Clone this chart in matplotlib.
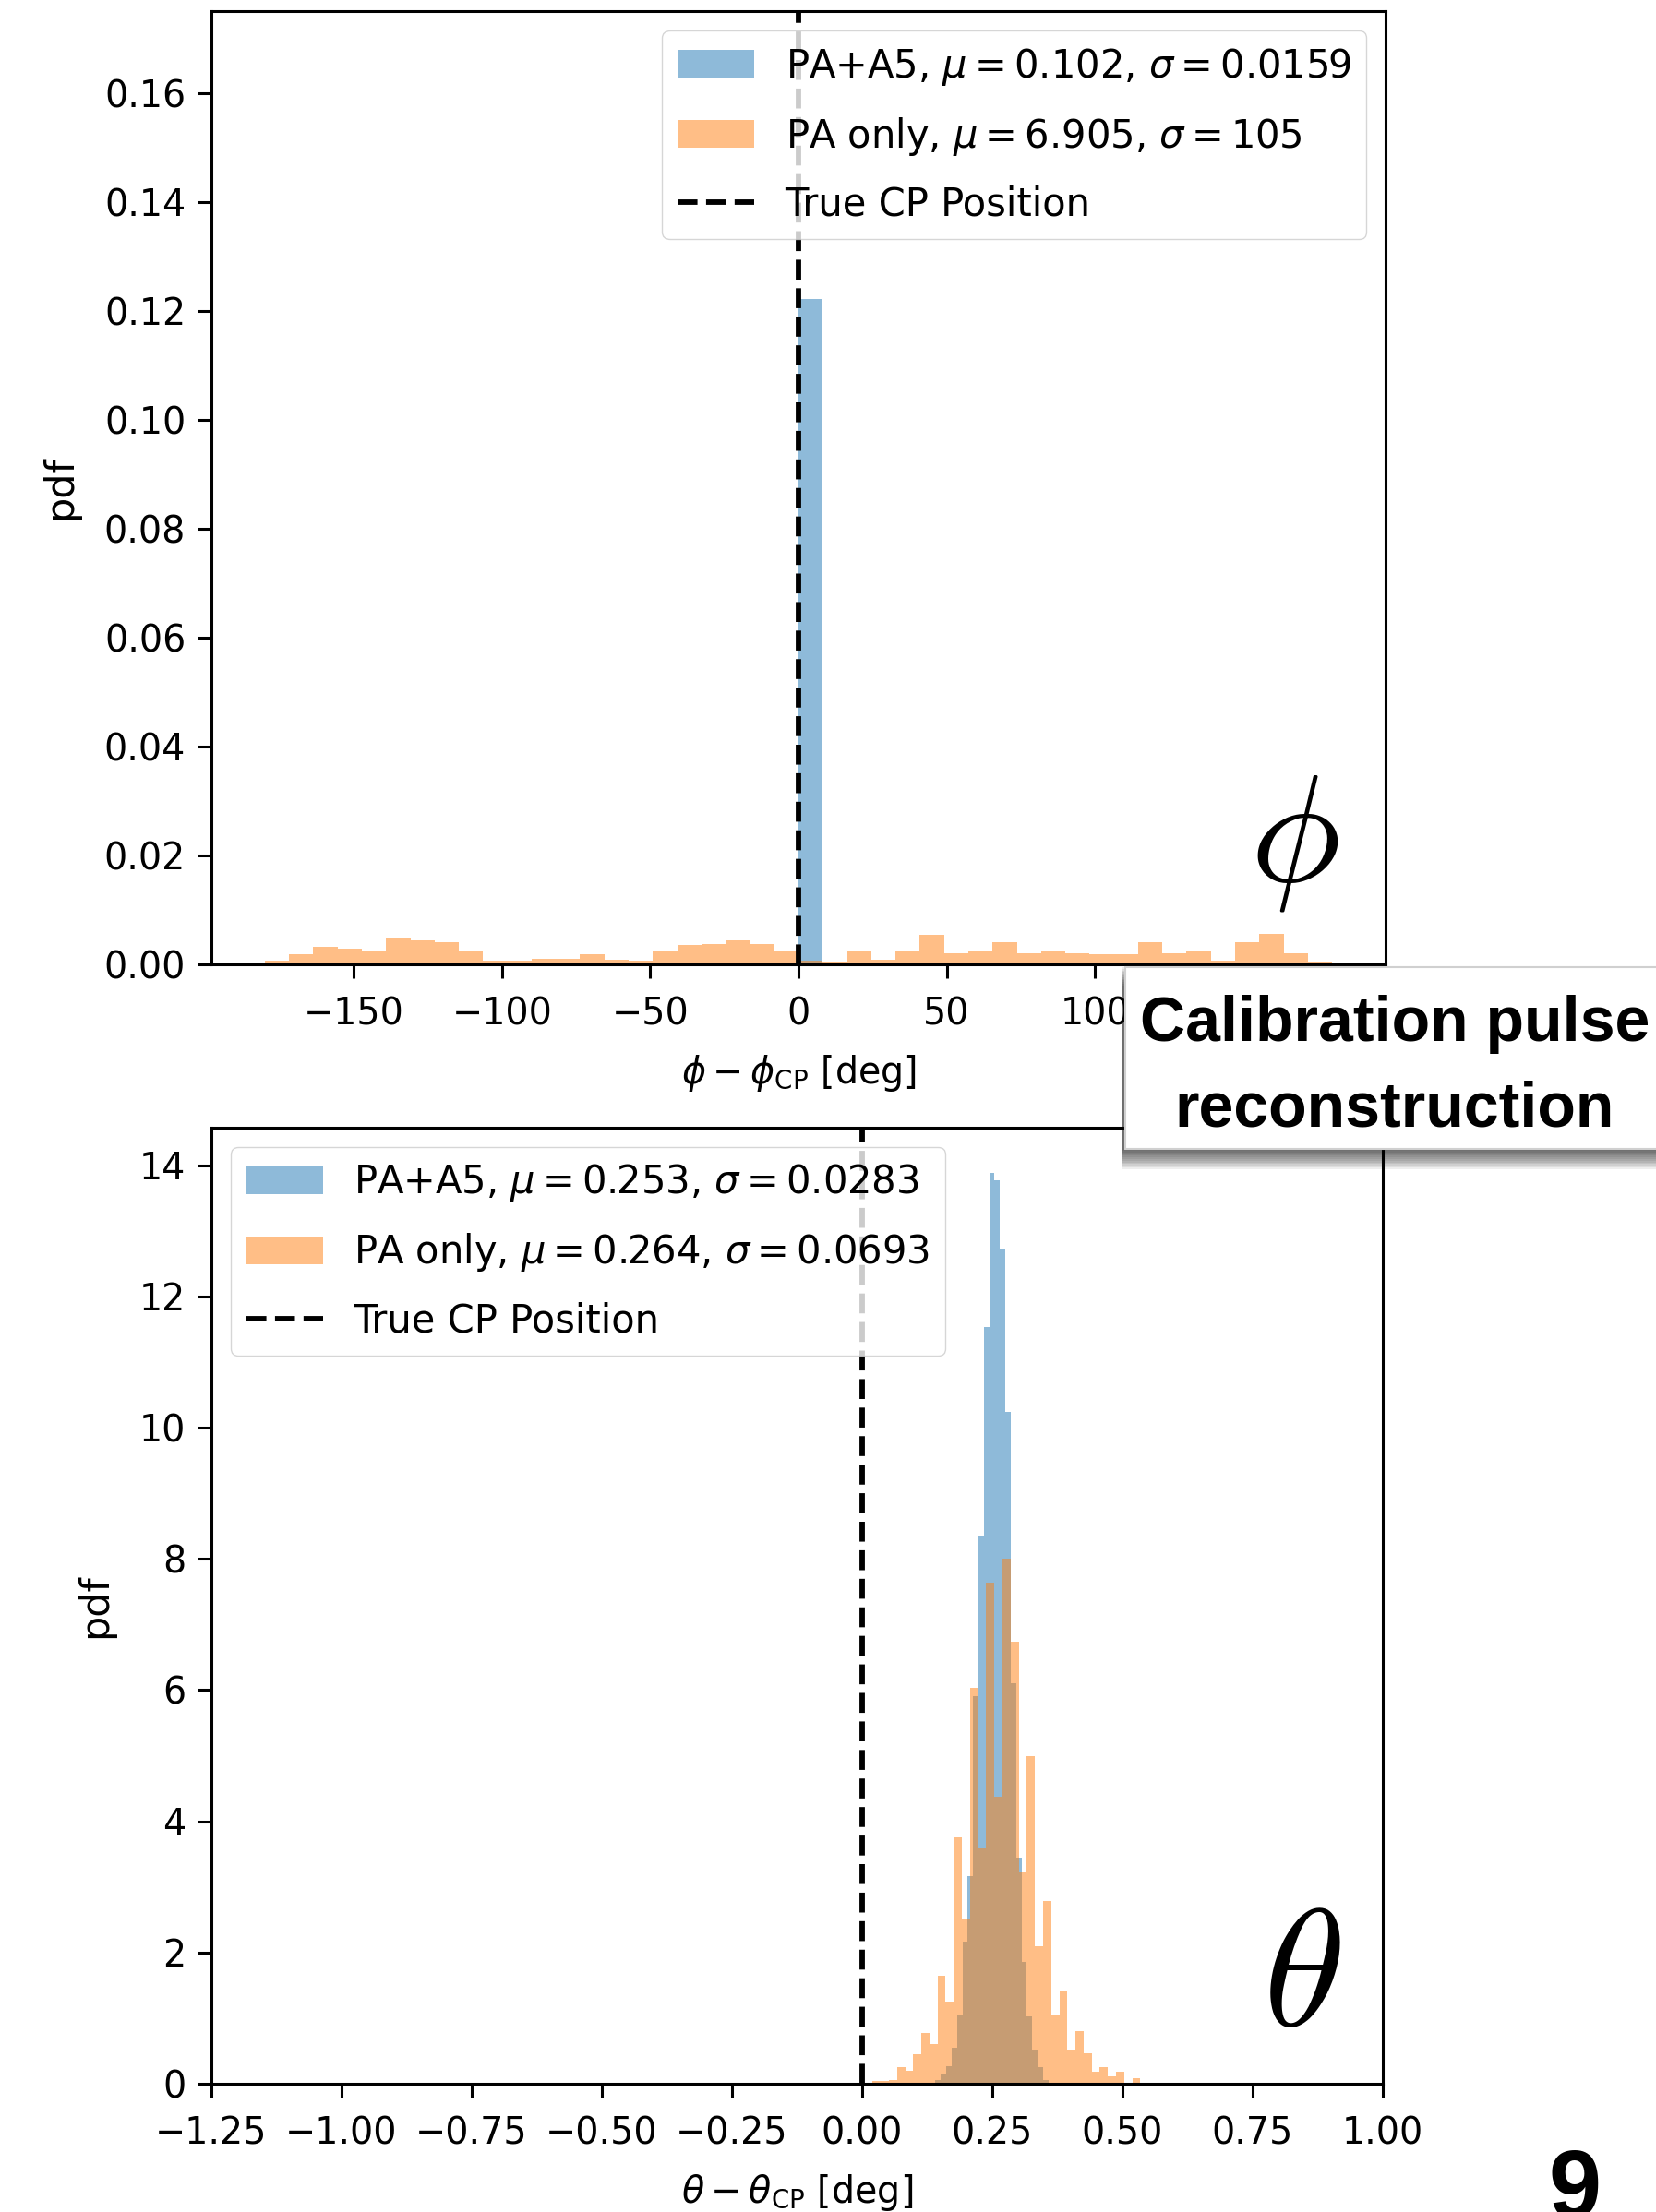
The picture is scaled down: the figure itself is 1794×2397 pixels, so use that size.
import numpy as np
import matplotlib
matplotlib.use("Agg")
import matplotlib.pyplot as plt
from matplotlib.patches import Rectangle

# ---------------- data ----------------
# phi panel: shared bins from -180 to 180 deg (44 bins)
phi_edges_range = (-180.0, 180.0)
phi_pa_a5 = [0.0] * 22 + [0.1222] + [0.0] * 21
phi_pa_only = [
    0.0007, 0.0018, 0.0032, 0.0028, 0.0024, 0.0049, 0.0044, 0.0041, 0.0025, 0.0007, 0.0007,
    0.0010, 0.0010, 0.0018, 0.0008, 0.0007, 0.0023, 0.0036, 0.0038, 0.0044, 0.0037, 0.0024,
    0.0007, 0.0005, 0.0025, 0.0008, 0.0024, 0.0054, 0.0021, 0.0023, 0.0040, 0.0021, 0.0024,
    0.0020, 0.0018, 0.0018, 0.0041, 0.0020, 0.0024, 0.0007, 0.0041, 0.0056, 0.0020, 0.0005,
]

# theta panel: PA+A5 histogram (21 bins)
theta_a5_range = (0.1408, 0.1408 + 21 * 0.01033)
theta_pa_a5 = [
    0.06, 0.16, 0.27, 0.55, 1.04, 2.17, 3.17, 5.90, 8.36, 11.53, 13.88,
    13.77, 12.71, 10.24, 6.10, 3.45, 1.85, 1.02, 0.52, 0.25, 0.06,
]
# theta panel: PA only histogram (39 bins)
theta_pa_range = (-0.0421, -0.0421 + 39 * 0.01558)
theta_pa_only = [
    0.02, 0.00, 0.02, 0.00, 0.04, 0.04, 0.06,
    0.25, 0.20, 0.45, 0.78, 0.61, 1.65, 1.25, 3.75, 2.50, 6.04, 3.59, 7.63, 4.38, 8.00,
    6.74, 3.22, 4.99, 2.10, 2.79, 1.04, 1.41, 0.52, 0.80, 0.46, 0.18, 0.25, 0.11, 0.18,
    0.02, 0.09, 0.02, 0.02,
]

phi_labels = [r"PA+A5, $\mu = 0.102$, $\sigma = 0.0159$",
              r"PA only, $\mu = 6.905$, $\sigma = 105$"]
theta_labels = [r"PA+A5, $\mu = 0.253$, $\sigma = 0.0283$",
                r"PA only, $\mu = 0.264$, $\sigma = 0.0693$"]
truth_label = "True CP Position"
phi_xticks = [-150, -100, -50, 0, 50, 100, 150]
phi_yticks = [0.00, 0.02, 0.04, 0.06, 0.08, 0.10, 0.12, 0.14, 0.16]
theta_xticks = [-1.25, -1.00, -0.75, -0.50, -0.25, 0.00, 0.25, 0.50, 0.75, 1.00]
theta_yticks = [0, 2, 4, 6, 8, 10, 12, 14]

# ---------------- style ----------------
FS = 28.5
plt.rcParams["font.family"] = ["DejaVu Sans"]
plt.rcParams["axes.linewidth"] = 2.2
plt.rcParams["xtick.major.width"] = 2.2
plt.rcParams["ytick.major.width"] = 2.2
plt.rcParams["xtick.major.size"] = 11
plt.rcParams["ytick.major.size"] = 11
plt.rcParams["xtick.major.pad"] = 14
plt.rcParams["ytick.major.pad"] = 9
plt.rcParams["xtick.labelsize"] = FS
plt.rcParams["ytick.labelsize"] = FS
plt.rcParams["axes.labelsize"] = FS

W, H = 1794, 2397
fig = plt.figure(figsize=(W / 100, H / 100), dpi=100)

ax1 = fig.add_axes([229 / W, 1 - 1045 / H, (1501 - 229) / W, (1045 - 12) / H])
ax2 = fig.add_axes([229 / W, 1 - 2258 / H, (1498 - 229) / W, (2258 - 1222) / H])


def draw_hist(ax, rng, values, color, label):
    edges = np.linspace(rng[0], rng[1], len(values) + 1)
    return ax.bar(edges[:-1], values, width=np.diff(edges), align="edge",
                  color=color, alpha=0.5, linewidth=0, label=label)


def panel(ax, rngs, series, labels, xlim, ylim, xticks, yticks, xlabel,
          legloc, sym, sympos, symsize):
    h1 = draw_hist(ax, rngs[0], series[0], "C0", labels[0])
    h2 = draw_hist(ax, rngs[1], series[1], "C1", labels[1])
    h3 = ax.axvline(0, color="k", ls="--", lw=4.2, label=truth_label)
    ax.set_xlim(*xlim)
    ax.set_ylim(*ylim)
    ax.set_xticks(xticks)
    ax.set_yticks(yticks)
    ax.set_xlabel(xlabel, labelpad=15)
    ax.set_ylabel("pdf", fontsize=31, labelpad=19)
    ax.legend([h1, h2, h3], [labels[0], labels[1], truth_label], loc=legloc,
              fontsize=30, labelspacing=0.72, handlelength=2.0)
    ax.text(sympos[0], sympos[1], sym, transform=ax.transAxes, fontsize=symsize,
            ha="center", va="center", math_fontfamily="cm")


panel(ax1, (phi_edges_range, phi_edges_range), (phi_pa_a5, phi_pa_only), phi_labels,
      (-198, 198), (0, 0.175), phi_xticks, phi_yticks,
      r"$\phi - \phi_{\mathrm{CP}}$ [deg]", "upper right", r"$\phi$", (0.922, 0.13), 118)
panel(ax2, (theta_a5_range, theta_pa_range), (theta_pa_a5, theta_pa_only), theta_labels,
      (-1.25, 1.0), (0, 14.57), theta_xticks, theta_yticks,
      r"$\theta - \theta_{\mathrm{CP}}$ [deg]", "upper left", r"$\theta$", (0.931, 0.109), 130)

# --- callout box ---
bx0, by_top, by_bot = 1219, 1048, 1245
for i in range(12):
    fig.add_artist(Rectangle(((bx0 - 4) / W, 1 - (by_bot + 2 + 1.8 * i) / H),
                             (W - bx0 + 40) / W, (by_bot - by_top + 2) / H,
                             transform=fig.transFigure, facecolor="k",
                             edgecolor="none", alpha=0.065, zorder=5))
fig.add_artist(Rectangle((bx0 / W, 1 - by_bot / H), (W - bx0 + 40) / W,
                         (by_bot - by_top) / H, transform=fig.transFigure,
                         facecolor="white", edgecolor="#d0d0d0", lw=1.5, zorder=6))
fig.text(1511 / W, 1 - 1156 / H, "Calibration pulse\nreconstruction",
         fontsize=49, fontweight="bold", family="Liberation Sans",
         ha="center", va="center", linespacing=1.58, zorder=7)

fig.text(1706 / W, 1 - 2328 / H, "9", fontsize=74, fontweight="bold",
         family="Liberation Sans", ha="center", va="top")

fig.savefig("out.png", dpi=100)
